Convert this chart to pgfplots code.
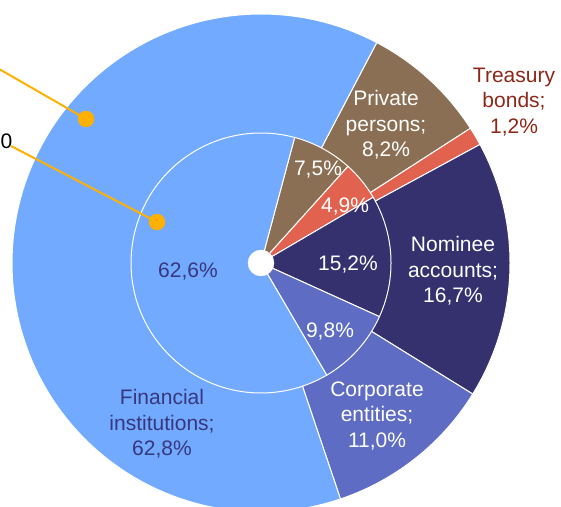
\documentclass[border=0pt]{standalone}
\usepackage{fontspec}
\setmainfont{Liberation Sans}
\usepackage{pgfplots}
\usepackage{pgfplotstable}
\pgfplotsset{compat=1.18}
\definecolor{cFin}{RGB}{114,170,255}
\definecolor{cPriv}{RGB}{138,111,84}
\definecolor{cTre}{RGB}{225,98,78}
\definecolor{cNom}{RGB}{53,49,111}
\definecolor{cCorp}{RGB}{94,108,196}
\definecolor{cLead}{RGB}{255,176,0}
\definecolor{cNavyTxt}{RGB}{55,55,125}
\definecolor{cRedTxt}{RGB}{140,40,25}
% outer ring (percent), clockwise from the Financial/Private boundary
\pgfplotstableread{
pct color
8.2 cPriv
1.2 cTre
16.7 cNom
11.0 cCorp
62.8 cFin
}\outertab
% inner ring (percent)
\pgfplotstableread{
pct color
7.5 cPriv
4.9 cTre
15.2 cNom
9.8 cCorp
62.6 cFin
}\innertab
\begin{document}
\begin{tikzpicture}
\begin{axis}[
  at={(0,0)}, anchor=origin,
  width=561pt, height=506pt, scale only axis,
  xmin=0, xmax=561, ymin=0, ymax=506,
  hide axis, clip=true,
]
% outer ring wedges
\pgfmathsetmacro\start{27.7}
\pgfplotsforeachungrouped \i in {0,...,4}{%
  \pgfplotstablegetelem{\i}{pct}\of\outertab \let\p\pgfplotsretval
  \pgfplotstablegetelem{\i}{color}\of\outertab \let\c\pgfplotsretval
  \pgfmathsetmacro\e{\start+\p*3.6036}%
  \edef\cmd{\noexpand\addplot[fill=\c, draw=white, line width=1pt, domain=\start:\e, samples=120, variable=\noexpand\t] ({261+249*sin(\noexpand\t)},{243+249*cos(\noexpand\t)}) -- (axis cs:261,243) -- cycle;}%
  \cmd
  \global\let\start\e
}
% inner ring wedges
\pgfmathsetmacro\start{15}
\pgfplotsforeachungrouped \i in {0,...,4}{%
  \pgfplotstablegetelem{\i}{pct}\of\innertab \let\p\pgfplotsretval
  \pgfplotstablegetelem{\i}{color}\of\innertab \let\c\pgfplotsretval
  \pgfmathsetmacro\e{\start+\p*3.6}%
  \edef\cmd{\noexpand\addplot[fill=\c, draw=white, line width=1pt, domain=\start:\e, samples=100, variable=\noexpand\t] ({261+130*sin(\noexpand\t)},{243+130*cos(\noexpand\t)}) -- (axis cs:261,243) -- cycle;}%
  \cmd
  \global\let\start\e
}
% hole
\addplot[only marks, mark=*, mark size=13pt, white, mark options={draw=white, fill=white}] coordinates {(261,243)};
% leader lines
\addplot[cLead, line width=2pt] coordinates {(-20,448) (86,387)};
\addplot[cLead, line width=2pt] coordinates {(11,360) (157,284)};
\addplot[only marks, mark=*, mark size=8pt, cLead, mark options={draw=cLead, fill=cLead}] coordinates {(86,387) (157,284)};
% labels
\begin{scope}[every node/.style={font=\fontsize{21}{25.5}\selectfont, align=center, inner sep=0pt}]
\node[white] at (axis cs:386,381) {Private\\persons;\\8,2\%};
\node[text=cRedTxt] at (axis cs:514,404) {Treasury\\bonds;\\1,2\%};
\node[white] at (axis cs:453,235) {Nominee\\accounts;\\16,7\%};
\node[white] at (axis cs:377,90) {Corporate\\entities;\\11,0\%};
\node[text=cNavyTxt] at (axis cs:162,82) {Financial\\institutions;\\62,8\%};
\node[text=cNavyTxt] at (axis cs:188,234) {62,6\%};
\node[white] at (axis cs:348,241) {15,2\%};
\node[white] at (axis cs:330,174) {9,8\%};
\node[white] at (axis cs:345,299) {4,9\%};
\node[white] at (axis cs:318,336) {7,5\%};
\node[black, anchor=west] at (axis cs:0.5,365) {0};
\end{scope}
\end{axis}
\pgfresetboundingbox
\useasboundingbox (0,0) rectangle (561pt,506pt);
\end{tikzpicture}
\end{document}
